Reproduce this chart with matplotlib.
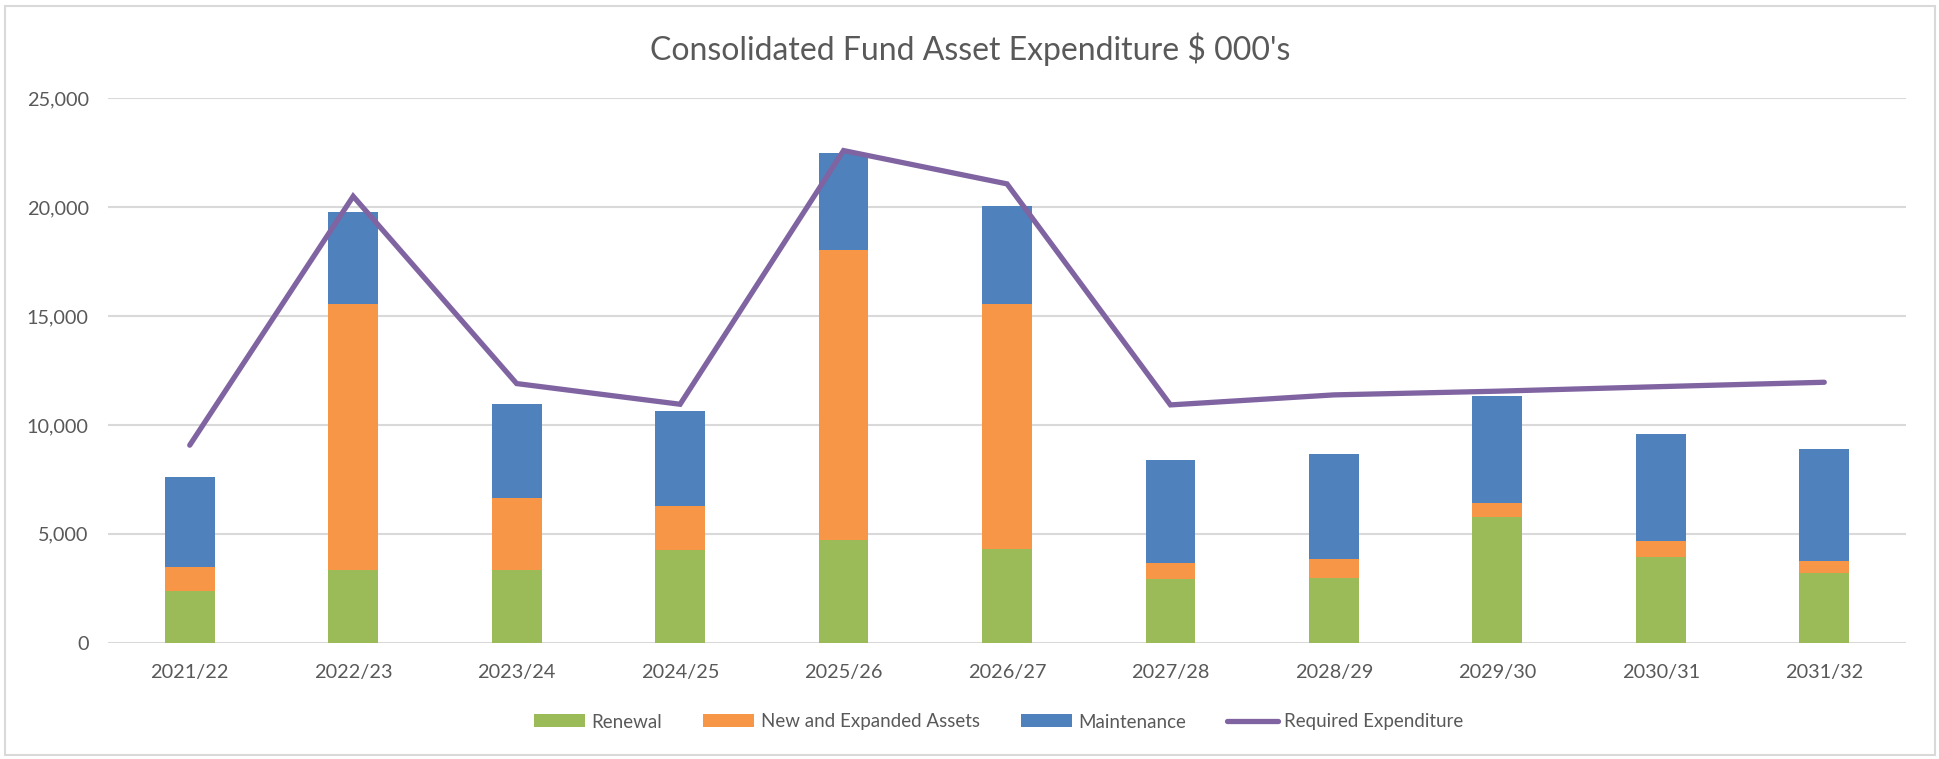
import matplotlib
matplotlib.use("Agg")
import matplotlib.pyplot as plt
import numpy as np
from matplotlib.patches import Rectangle
from matplotlib.ticker import FuncFormatter

years = ["2021/22", "2022/23", "2023/24", "2024/25", "2025/26", "2026/27",
         "2027/28", "2028/29", "2029/30", "2030/31", "2031/32"]
renewal = [2390, 3320, 3320, 4270, 4700, 4320, 2920, 2990, 5770, 3930, 3190]
new_assets = [1100, 12220, 3340, 1990, 13330, 11220, 740, 840, 660, 730, 580]
maintenance = [4130, 4230, 4280, 4400, 4470, 4520, 4710, 4820, 4900, 4940, 5110]
required = [9070, 20500, 11900, 10950, 22600, 21070, 10920, 11380, 11550, 11760, 11960]

GREEN = "#9BBB59"
ORANGE = "#F79646"
BLUE = "#4F81BD"
PURPLE = "#8064A2"
TEXT = "#595959"
GRID = "#D9D9D9"

plt.rcParams["font.family"] = ["Lato", "DejaVu Sans"]

fig = plt.figure(figsize=(19.4, 7.59), dpi=100)
ax = fig.add_axes([108 / 1940, 116.3 / 759, (1906 - 108) / 1940, (660.7 - 116.3) / 759])

x = np.arange(len(years))
w = 0.305
b1 = np.array(renewal)
b2 = b1 + np.array(new_assets)
h1 = ax.bar(x, renewal, w, color=GREEN, label="Renewal", zorder=2)
h2 = ax.bar(x, new_assets, w, bottom=b1, color=ORANGE, label="New and Expanded Assets", zorder=2)
h3 = ax.bar(x, maintenance, w, bottom=b2, color=BLUE, label="Maintenance", zorder=2)
h4, = ax.plot(x, required, color=PURPLE, lw=3.8, label="Required Expenditure", zorder=3,
              solid_joinstyle="miter", solid_capstyle="round")

ax.set_xlim(-0.5, len(years) - 0.5)
ax.set_ylim(0, 25000)
ax.set_yticks(np.arange(0, 25001, 5000))
ax.yaxis.set_major_formatter(FuncFormatter(lambda v, p: f"{int(v):,}"))
ax.set_xticks(x)
ax.set_xticklabels(years)
ax.grid(axis="y", color=GRID, lw=1.5, zorder=0)
ax.set_axisbelow(True)
for s in ax.spines.values():
    s.set_visible(False)
ax.tick_params(axis="both", length=0, labelsize=14.3, labelcolor=TEXT)
ax.tick_params(axis="y", pad=14)
ax.tick_params(axis="x", pad=15)

fig.text(0.5, 1 - 49 / 759, "Consolidated Fund Asset Expenditure $ 000's",
         ha="center", va="center", fontsize=23, color=TEXT)

fig.legend(handles=[h1, h2, h3, h4], loc="center",
           bbox_to_anchor=(999 / 1940, 1 - 722 / 759), ncol=4,
           frameon=False, fontsize=13.5, labelcolor=TEXT, handlelength=2.7,
           handleheight=0.68, handletextpad=0.35, columnspacing=2.2)

fig.patches.append(Rectangle((5 / 1940, 4 / 759), 1930 / 1940, 749 / 759,
                             transform=fig.transFigure, fill=False,
                             edgecolor=GRID, lw=1.5))

fig.savefig("out.png", dpi=100)
